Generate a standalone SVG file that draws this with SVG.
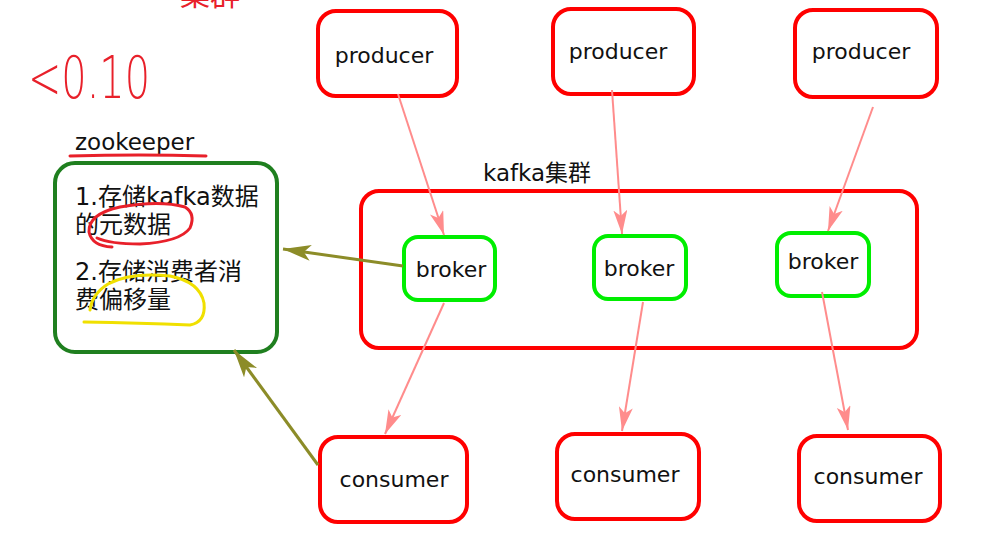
<svg xmlns="http://www.w3.org/2000/svg" width="995" height="554" viewBox="0 0 995 554">
<style>
.box{fill:#fff;stroke:#ff0000;stroke-width:4}
.brk{fill:#fff;stroke:#00ee00;stroke-width:4}
.zk{fill:#fff;stroke:#1f7f1f;stroke-width:4}
.lbl{font-family:"DejaVu Sans","Noto Sans CJK SC",sans-serif;font-size:22px;fill:#111;text-anchor:middle}
.cn{font-family:"DejaVu Sans","Noto Sans CJK SC",sans-serif;font-size:24px;fill:#111}
.pk{stroke:#ff8c8c;stroke-width:2;fill:none}
.ol{stroke:#8c8c28;stroke-width:3;fill:none}
.ink{fill:none;stroke-linecap:round;stroke-linejoin:round}
</style>
<defs>
<marker id="ap" viewBox="0 0 24 14" markerWidth="24" markerHeight="14" refX="24" refY="7" orient="auto" markerUnits="userSpaceOnUse">
<path d="M0,0 L24,7 L0,14 L6,7 z" fill="#ff8c8c"/>
</marker>
<marker id="ao" viewBox="0 0 28 16" markerWidth="28" markerHeight="16" refX="28" refY="8" orient="auto" markerUnits="userSpaceOnUse">
<path d="M0,0 L28,8 L0,16 L7,8 z" fill="#8c8c28"/>
</marker>
</defs>
<rect width="995" height="554" fill="#fff"/>

<g id="annotations">
<text x="180" y="5" font-family="Noto Sans CJK SC,sans-serif" font-size="30" fill="#e8202a">集群</text>
<text x="28" y="98" font-family="DejaVu Sans,sans-serif" font-weight="200" font-size="58" fill="#e8202a" textLength="122" lengthAdjust="spacingAndGlyphs">&lt;0.10</text>
</g>

<g id="zookeeper-title">
<text x="75" y="150" font-family="DejaVu Sans,sans-serif" font-size="23" fill="#111">zookeeper</text>
<path class="ink" d="M70,156 Q140,154 206,156" stroke="#e8202a" stroke-width="3"/>
</g>

<g id="zookeeper">
<rect class="zk" x="55" y="163" width="222" height="189" rx="20"/>
<text class="cn" x="75" y="205">1.存储kafka数据</text>
<text class="cn" x="75" y="233">的元数据</text>
<text class="cn" x="75" y="280">2.存储消费者消</text>
<text class="cn" x="75" y="308">费偏移量</text>
<path class="ink" d="M112,247 Q92,246 89,232 Q88,214 120,207 Q160,200 185,207 Q196,214 190,228 Q180,242 140,244 Q110,244 97,238" stroke="#e8202a" stroke-width="3"/>
<path class="ink" d="M84,322 Q140,323 190,325 Q206,322 204,303 Q200,282 170,276 Q130,272 108,284 Q92,294 90,310" stroke="#f0e000" stroke-width="3"/>
</g>

<g id="cluster">
<rect class="box" x="361" y="191" width="556" height="157" rx="18"/>
<text x="483" y="181" font-family="DejaVu Sans,Noto Sans CJK SC,sans-serif" font-size="23" fill="#111">kafka集群</text>
</g>

<g id="producer1"><rect class="box" x="318" y="11" width="139" height="85" rx="18"/><text class="lbl" x="384" y="63">producer</text></g>
<g id="producer2"><rect class="box" x="553" y="9" width="141" height="85" rx="18"/><text class="lbl" x="618" y="59">producer</text></g>
<g id="producer3"><rect class="box" x="795" y="10" width="142" height="87" rx="18"/><text class="lbl" x="861" y="59">producer</text></g>

<g id="broker1"><rect class="brk" x="404" y="237" width="91" height="63" rx="14"/><text class="lbl" x="451" y="277">broker</text></g>
<g id="broker2"><rect class="brk" x="594" y="236" width="92" height="63" rx="14"/><text class="lbl" x="639" y="276">broker</text></g>
<g id="broker3"><rect class="brk" x="777" y="233" width="92" height="63" rx="14"/><text class="lbl" x="823" y="269">broker</text></g>

<g id="consumer1"><rect class="box" x="320" y="437" width="147" height="85" rx="18"/><text class="lbl" x="394" y="487">consumer</text></g>
<g id="consumer2"><rect class="box" x="557" y="434" width="142" height="85" rx="18"/><text class="lbl" x="625" y="482">consumer</text></g>
<g id="consumer3"><rect class="box" x="799" y="436" width="141" height="85" rx="18"/><text class="lbl" x="868" y="484">consumer</text></g>

<g id="connectors">
<line class="pk" x1="398" y1="94" x2="444" y2="235" marker-end="url(#ap)"/>
<line class="pk" x1="612" y1="90" x2="622" y2="234" marker-end="url(#ap)"/>
<line class="pk" x1="873" y1="107" x2="828" y2="231" marker-end="url(#ap)"/>
<line class="pk" x1="444" y1="303" x2="385" y2="434" marker-end="url(#ap)"/>
<line class="pk" x1="643" y1="302" x2="622" y2="431" marker-end="url(#ap)"/>
<line class="pk" x1="822" y1="292" x2="848" y2="430" marker-end="url(#ap)"/>
<line class="ol" x1="403" y1="266" x2="283" y2="249" marker-end="url(#ao)"/>
<line class="ol" x1="318" y1="465" x2="234" y2="350" marker-end="url(#ao)"/>
</g>
</svg>
